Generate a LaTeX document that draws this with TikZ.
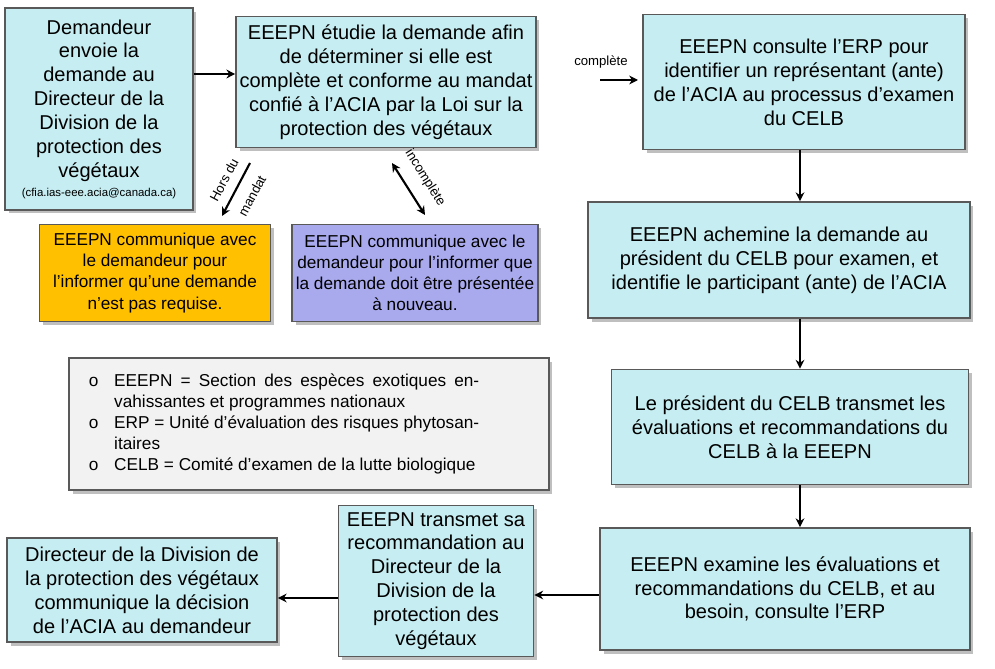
\documentclass[tikz,border=0pt]{standalone}
\usepackage{fontspec}
\setmainfont{Liberation Sans}
\usepackage{tikz}
\usetikzlibrary{positioning,arrows.meta,shadows}

\definecolor{boxcyan}{HTML}{C6EDF1}
\definecolor{boxyellow}{HTML}{FFC000}
\definecolor{boxpurple}{HTML}{A9A9EE}
\definecolor{legendgray}{HTML}{F2F2F2}

\begin{document}
\begin{tikzpicture}[x=0.02cm,y=-0.02cm,
    stepbox/.style={draw=gray!70!black,line width=1pt,fill=boxcyan,align=center,inner sep=2pt,
      drop shadow={shadow xshift=2pt,shadow yshift=-2pt,opacity=.5},
      font=\fontsize{11.4}{13.6}\selectfont},
    smallbox/.style={stepbox,font=\fontsize{9.8}{12}\selectfont},
    flow/.style={-{Stealth[length=5pt,width=5pt]},line width=1.2pt}]
    \useasboundingbox (0,0) rectangle (995,669);

    \node[stepbox,minimum width=3.76cm,minimum height=4.04cm] (dem) at (99,109)
      {Demandeur\\envoie la\\demande au\\Directeur de la\\Division de la\\protection des\\végétaux\\[-3pt]{\fontsize{6.5}{8}\selectfont (cfia.ias-eee.acia@canada.ca)}};
    \node[stepbox,minimum width=5.76cm,minimum height=2.62cm] (etud) at (386,82)
      {EEEPN étudie la demande afin\\de déterminer si elle est\\complète et conforme au mandat\\confié à l’ACIA par la Loi sur la\\protection des végétaux};
    \node[stepbox,minimum width=6.44cm,minimum height=2.7cm] (erp) at (804,82)
      {EEEPN consulte l’ERP pour\\identifier un représentant (ante)\\de l’ACIA au processus d’examen\\du CELB};
    \node[smallbox,fill=boxyellow,minimum width=4.62cm,minimum height=1.94cm] (hors) at (155,273)
      {EEEPN communique avec\\le demandeur pour\\l’informer qu’une demande\\n’est pas requise.};
    \node[smallbox,fill=boxpurple,minimum width=4.64cm,minimum height=1.94cm] (incomp) at (415,273)
      {EEEPN communique avec le\\demandeur pour l’informer que\\la demande doit être présentée\\à nouveau.};
    \node[stepbox,minimum width=7.64cm,minimum height=2.32cm] (achem) at (779,260)
      {EEEPN achemine la demande au\\président du CELB pour examen, et\\identifie le participant (ante) de l’ACIA};
    \node[stepbox,minimum width=7.14cm,minimum height=2.3cm] (trans) at (790,427)
      {Le président du CELB transmet les\\évaluations et recommandations du\\CELB à la EEEPN};
    \node[stepbox,minimum width=7.4cm,minimum height=2.44cm] (exam) at (785,589)
      {EEEPN examine les évaluations et\\recommandations du CELB, et au\\besoin, consulte l’ERP};
    \node[stepbox,minimum width=3.9cm,minimum height=3.02cm] (reco) at (436,581)
      {EEEPN transmet sa\\recommandation au\\Directeur de la\\Division de la\\protection des\\végétaux};
    \node[stepbox,minimum width=5.4cm,minimum height=2.08cm] (dir) at (142,590)
      {Directeur de la Division de\\la protection des végétaux\\communique la décision\\de l’ACIA au demandeur};

    % legend
    \node[draw=gray!70!black,line width=.8pt,fill=legendgray,minimum width=9.6cm,minimum height=2.64cm,
      drop shadow={shadow xshift=2pt,shadow yshift=-2pt,opacity=.5}] (legend) at (309,424) {};
    \node[anchor=west,inner sep=0pt] (legtext) at (84,424)
      {\begin{minipage}{7.9cm}\fontsize{9.8}{12}\selectfont
        \begin{list}{o}{\leftmargin=17pt\labelwidth=8pt\labelsep=9pt\itemsep=0pt\parsep=0pt\topsep=0pt}
        \item EEEPN = Section des espèces exotiques envahissantes et programmes nationaux
        \item ERP = Unité d’évaluation des risques phytosanitaires
        \item CELB = Comité d’examen de la lutte biologique
        \end{list}\end{minipage}};

    \coordinate (c1) at (600,80);
    \coordinate (c2) at (638,80);
    \coordinate (h1) at (250,163);
    \coordinate (h2) at (222,216);
    \coordinate (i1) at (392,163);
    \coordinate (i2) at (425,215);

    \draw[flow] (dem.east|-0,74) -- (etud.west|-0,74);
    \draw[flow] (c1) -- (c2);
    \node[font=\fontsize{7.5}{8}\selectfont] (lblc) at (601,62) {complète};
    \draw[flow] (h1) -- (h2);
    \node[rotate=62,font=\fontsize{7.5}{8}\selectfont] (lblh1) at (224,180) {Hors du};
    \node[rotate=62,font=\fontsize{7.5}{8}\selectfont] (lblh2) at (252,196) {mandat};
    \draw[{Stealth[length=5pt,width=5pt]}-{Stealth[length=5pt,width=5pt]},line width=1.2pt] (i1) -- (i2);
    \node[rotate=-58,font=\fontsize{7.5}{8}\selectfont] (lbli) at (425,178) {incomplète};
    \draw[flow] (erp.south-|800,0) -- (achem.north-|800,0);
    \draw[flow] (achem.south-|800,0) -- (trans.north-|800,0);
    \draw[flow] (trans.south-|800,0) -- (exam.north-|800,0);
    \draw[flow] (exam.west|-0,595) -- (reco.east|-0,595);
    \draw[flow] (reco.west|-0,598) -- (dir.east|-0,598);
\end{tikzpicture}
\end{document}
